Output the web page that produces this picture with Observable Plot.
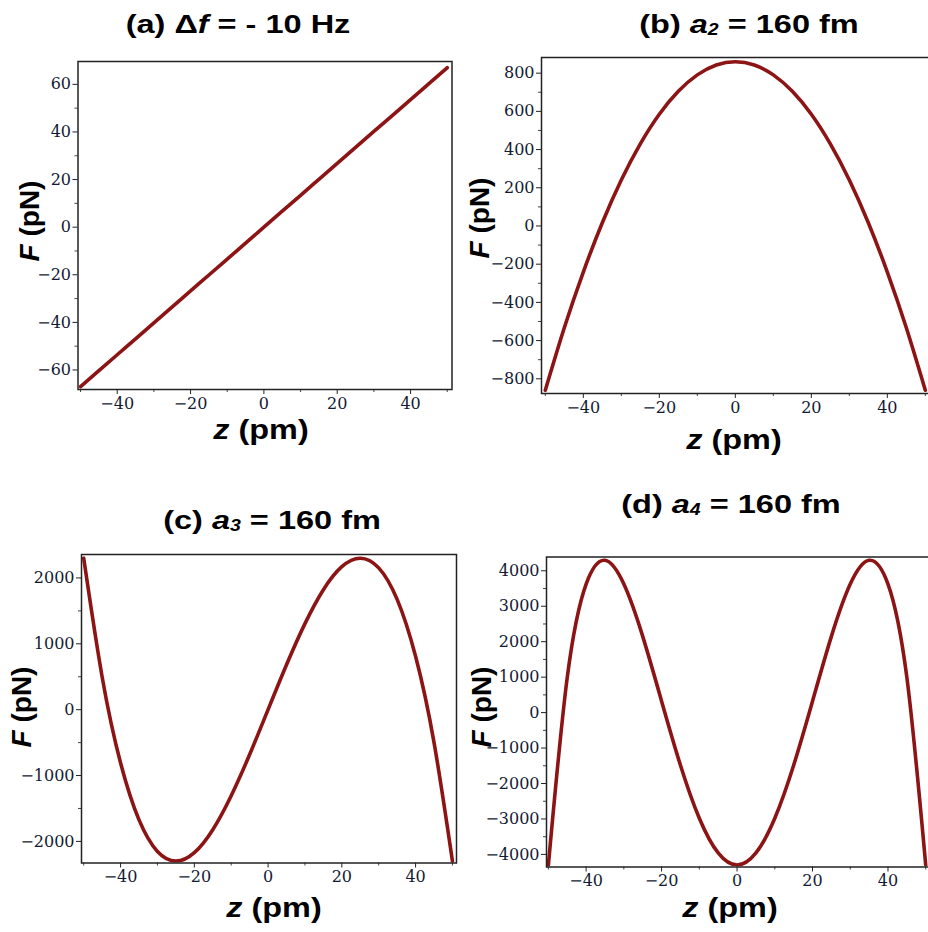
<!DOCTYPE html>
<html>
<head>
<meta charset="utf-8">
<script src="https://cdn.jsdelivr.net/npm/d3@7"></script>
<script src="https://cdn.jsdelivr.net/npm/@observablehq/plot@0.6"></script>
<style>
  html, body { margin: 0; padding: 0; background: #fff; }
  body { width: 928px; height: 932px; overflow: hidden; position: relative; }
  .panel { position: absolute; left: 0; top: 0; max-width: none !important; }
  .lbl { position: absolute; font-family: "Liberation Sans", Arial, sans-serif; font-weight: bold; color: #000; white-space: nowrap; line-height: 1; }
  .title { font-size: 26px; }
  .xlab { font-size: 27px; }
  .ylab { font-size: 28px; }
  i { font-style: italic; }
  sub { font-size: 0.6em; vertical-align: -0.15em; font-style: italic; }
</style>
</head>
<body>
<div id="root"></div>
<script>
// ---- data ----
const zValues = [-50, -45, -40, -35, -30, -25, -20, -15, -10, -5, 0, 5, 10, 15, 20, 25, 30, 35, 40, 45, 50];
const forceA = [-67, -60.3, -53.6, -46.9, -40.2, -33.5, -26.8, -20.1, -13.4, -6.7, 0, 6.7, 13.4, 20.1, 26.8, 33.5, 40.2, 46.9, 53.6, 60.3, 67];
const forceB = [-860, -533, -241, 17, 241, 430, 585, 705, 791, 843, 860, 843, 791, 705, 585, 430, 241, 17, -241, -533, -860];
const forceC = [2300, 497, -810, -1674, -2153, -2300, -2171, -1822, -1306, -681, 0, 681, 1306, 1822, 2171, 2300, 2153, 1674, 810, -497, -2300];
const forceD = [-4300, 994, 3626, 4297, 3626, 2150, 323, -1483, -2979, -3959, -4300, -3959, -2979, -1483, 323, 2150, 3626, 4297, 3626, 994, -4300];

const xTicks = [-40, -20, 0, 20, 40];
const xMinor = [-50, -30, -10, 10, 30, 50];
const yTicksA = [-60, -40, -20, 0, 20, 40, 60];
const yMinorA = [-50, -30, -10, 10, 30, 50];
const yTicksB = [-800, -600, -400, -200, 0, 200, 400, 600, 800];
const yMinorB = [-700, -500, -300, -100, 100, 300, 500, 700];
const yTicksC = [-2000, -1000, 0, 1000, 2000];
const yMinorC = [-1500, -500, 500, 1500];
const yTicksD = [-4000, -3000, -2000, -1000, 0, 1000, 2000, 3000, 4000];
const yMinorD = [-3500, -2500, -1500, -500, 500, 1500, 2500, 3500];

const titles = [
  '(a) &Delta;<i>f</i> = - 10 Hz',
  '(b) <i>a</i><sub>2</sub> = 160 fm',
  '(c) <i>a</i><sub>3</sub> = 160 fm',
  '(d) <i>a</i><sub>4</sub> = 160 fm'
];
const xLabel = '<i>z</i> (pm)';
const yLabel = '<i>F</i> (pN)';

// ---- layout ----
const panels = [
  {F: forceA, L: 77.5, R: 451.5, T: 61, B: 389, xd: [-50.7, 51.3], yd: [-68.2, 69.6], yt: yTicksA, ym: yMinorA,
   title: [238, 33], xl: [261, 440], yl: [30, 221]},
  {F: forceB, L: 541, R: 929, T: 57, B: 393, xd: [-51, 51.1], yd: [-877, 882], yt: yTicksB, ym: yMinorB,
   title: [749, 33], xl: [734, 450], yl: [480, 218]},
  {F: forceC, L: 81, R: 456, T: 554, B: 862.5, xd: [-50.6, 51.1], yd: [-2328, 2356], yt: yTicksC, ym: yMinorC,
   title: [272, 529], xl: [274, 918], yl: [22, 707]},
  {F: forceD, L: 546, R: 929, T: 556.5, B: 866.5, xd: [-50.5, 51], yd: [-4355, 4389], yt: yTicksD, ym: yMinorD,
   title: [731, 513], xl: [730, 918], yl: [482, 707]}
];

const root = document.getElementById("root");
const fmt = d3.format("d");

panels.forEach((p, i) => {
  const data = zValues.map((z, k) => ({z, F: p.F[k]}));
  const chart = Plot.plot({
    width: p.R + 20,
    height: p.B + 30,
    marginLeft: p.L,
    marginRight: 20,
    marginTop: p.T,
    marginBottom: 30,
    x: {domain: p.xd},
    y: {domain: p.yd},
    style: {fontFamily: "'DejaVu Serif', serif", fontSize: "16px", color: "#141a33", background: "transparent", overflow: "visible", maxWidth: "none"},
    marks: [
      Plot.axisX(xTicks, {tickSize: 5, tickPadding: 3, label: null, stroke: "#222", tickFormat: fmt, fontSize: 16}),
      Plot.axisX(xMinor, {tickSize: 3, tickFormat: () => "", label: null, stroke: "#444"}),
      Plot.axisY(p.yt, {tickSize: 5, tickPadding: 2, label: null, stroke: "#222", tickFormat: fmt, fontSize: 16}),
      Plot.axisY(p.ym, {tickSize: 3, tickFormat: () => "", label: null, stroke: "#444"}),
      Plot.line(data, {x: "z", y: "F", stroke: "#8c1414", strokeWidth: 3.6, curve: "natural", clip: true}),
      Plot.frame({stroke: "#222", strokeWidth: 1.5})
    ]
  });
  chart.classList.add("panel");
  chart.style.maxWidth = "none";
  root.appendChild(chart);

  const fsT = 26, fsX = 27;
  const t = document.createElement("div");
  t.className = "lbl title";
  t.innerHTML = titles[i];
  t.style.left = p.title[0] + "px";
  t.style.top = (p.title[1] - 0.8465 * fsT) + "px";
  t.style.transform = "translateX(-50%) scaleX(1.25)";
  root.appendChild(t);

  const xl = document.createElement("div");
  xl.className = "lbl xlab";
  xl.innerHTML = xLabel;
  xl.style.left = p.xl[0] + "px";
  xl.style.top = (p.xl[1] - 0.8465 * fsX) + "px";
  xl.style.transform = "translateX(-50%) scaleX(1.2)";
  root.appendChild(xl);

  const yl = document.createElement("div");
  yl.className = "lbl ylab";
  yl.innerHTML = yLabel;
  yl.style.left = p.yl[0] + "px";
  yl.style.top = p.yl[1] + "px";
  yl.style.transform = "translate(-50%, -50%) rotate(-90deg)";
  root.appendChild(yl);
});
</script>
</body>
</html>
